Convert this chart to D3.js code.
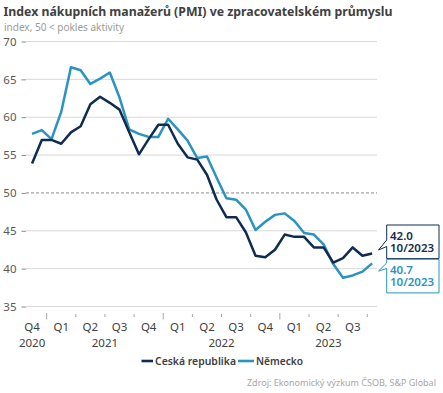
<!DOCTYPE html>
<html>
<head>
<meta charset="utf-8">
<script src="https://cdn.jsdelivr.net/npm/d3@7"></script>
<style>
  body { margin: 0; background: #fff; }
  svg { display: block; font-family: "Noto Sans", "Open Sans", sans-serif; }
</style>
</head>
<body>
<div id="chart"></div>
<script>
// monthly categories, Oct 2020 is an empty slot at the start of the axis
const months = ["2020-10","2020-11","2020-12",
  "2021-01","2021-02","2021-03","2021-04","2021-05","2021-06","2021-07","2021-08","2021-09","2021-10","2021-11","2021-12",
  "2022-01","2022-02","2022-03","2022-04","2022-05","2022-06","2022-07","2022-08","2022-09","2022-10","2022-11","2022-12",
  "2023-01","2023-02","2023-03","2023-04","2023-05","2023-06","2023-07","2023-08","2023-09","2023-10"];

const czech = [null, 53.9, 57.0,
  57.0, 56.5, 58.0, 58.8, 61.7, 62.7, 61.9, 61.0, 58.0, 55.1, 57.1, 59.0,
  59.0, 56.5, 54.7, 54.4, 52.4, 49.1, 46.8, 46.8, 44.8, 41.7, 41.5, 42.5,
  44.5, 44.2, 44.2, 42.8, 42.8, 40.8, 41.4, 42.8, 41.7, 42.0];

const germany = [null, 57.8, 58.3,
  57.1, 60.7, 66.6, 66.2, 64.4, 65.1, 65.9, 62.6, 58.4, 57.8, 57.4, 57.4,
  59.8, 58.4, 56.9, 54.6, 54.8, 52.0, 49.3, 49.1, 47.8, 45.1, 46.2, 47.1,
  47.3, 46.3, 44.7, 44.5, 43.2, 40.6, 38.8, 39.1, 39.6, 40.7];

const yTicks = [35, 40, 45, 50, 55, 60, 65, 70];
const seriesNames = ["Ceská republika", "Německo"];
const colors = ["#0f2c50", "#2b93bf"];

const W = 443, H = 393;
const svg = d3.select("#chart").append("svg").attr("width", W).attr("height", H);

// squeeze/stretch text to the width it has in the picture
function fit(sel, w) {
  sel.attr("textLength", w).attr("lengthAdjust", "spacingAndGlyphs");
  return sel;
}

fit(svg.append("text").attr("x", 3.5).attr("y", 15.5)
  .attr("font-size", 13).attr("font-weight", "bold").attr("fill", "#404040")
  .text("Index nákupních manažerů (PMI) ve zpracovatelském průmyslu"), 389);

fit(svg.append("text").attr("x", 4).attr("y", 30.5)
  .attr("font-size", 10.5).attr("fill", "#9a9a9a")
  .text("index, 50 < pokles aktivity"), 120);

const x = d3.scaleBand().domain(months).range([17.5, 377]);
const y = d3.scaleLinear().domain([35, 70]).range([306.5, 41.5]);
const cx = m => x(m) + x.bandwidth() / 2;

// gridlines
svg.append("g").selectAll("line")
  .data(yTicks)
  .enter().append("line")
    .attr("x1", 26).attr("x2", 377)
    .attr("y1", d => y(d)).attr("y2", d => y(d))
    .attr("stroke", d => d === 50 ? "#8a8a8a" : "#d9d9d9")
    .attr("stroke-width", 1)
    .attr("stroke-dasharray", d => d === 50 ? "3,2" : null);

// y axis
const yAxis = svg.append("g").attr("transform", "translate(26,0)")
  .call(d3.axisLeft(y).tickValues(yTicks).tickSize(4.5).tickPadding(5));
yAxis.select(".domain").remove();
yAxis.selectAll(".tick line").attr("stroke", "#8c8c8c");
yAxis.selectAll(".tick text").attr("font-size", 11.5).attr("fill", "#595959")
  .attr("font-family", "\"Noto Sans\", sans-serif");

// x axis: quarter groups and year groups
const quarterOf = m => +m.slice(5) <= 3 ? 1 : +m.slice(5) <= 6 ? 2 : +m.slice(5) <= 9 ? 3 : 4;
const groupBy = keyFn => {
  const g = [];
  months.forEach(m => {
    const k = keyFn(m);
    if (!g.length || g[g.length - 1].key !== k) g.push({key: k, months: [m]});
    else g[g.length - 1].months.push(m);
  });
  return g;
};
const quarters = groupBy(m => m.slice(0, 4) + "Q" + quarterOf(m));
const years = groupBy(m => m.slice(0, 4));
const gStart = g => x(g.months[0]);
const gEnd = g => x(g.months[g.months.length - 1]) + x.bandwidth();

const xg = svg.append("g");
const yearStarts = years.slice(1).map(gStart);
xg.selectAll("line.qt")
  .data(quarters.slice(1))
  .enter().append("line")
    .attr("x1", d => gStart(d)).attr("x2", d => gStart(d))
    .attr("y1", d => yearStarts.includes(gStart(d)) ? 313 : 314)
    .attr("y2", d => yearStarts.includes(gStart(d)) ? 319.5 : 317)
    .attr("stroke", "#a6a6a6").attr("stroke-width", 1);

xg.selectAll("text.q")
  .data(quarters.filter(d => d.months.length > 1))
  .enter().append("text")
    .attr("x", d => (gStart(d) + gEnd(d)) / 2)
    .attr("y", 330.5)
    .attr("text-anchor", "middle").attr("font-size", 11.5).attr("fill", "#404040")
    .text(d => "Q" + d.key.slice(-1));

xg.selectAll("text.y")
  .data(years)
  .enter().append("text")
    .attr("x", d => (gStart(d) + gEnd(d)) / 2)
    .attr("y", 346.5)
    .attr("text-anchor", "middle").attr("font-size", 11.5).attr("fill", "#404040")
    .text(d => d.key);

// lines (Germany drawn first, Czech on top)
const line = d3.line()
  .defined(d => d.v !== null)
  .x(d => cx(d.m))
  .y(d => y(d.v));

[germany, czech].forEach((vals, i) => {
  const col = i === 0 ? colors[1] : colors[0];
  svg.append("path")
    .datum(months.map((m, j) => ({m: m, v: vals[j]})))
    .attr("fill", "none")
    .attr("stroke", col)
    .attr("stroke-width", 2.5)
    .attr("stroke-linejoin", "round")
    .attr("d", line);
});

// callouts for the last value
const last = months.length - 1;
const lastLabel = months[last].slice(5) + "/" + months[last].slice(0, 4);
const callouts = [
  {v: czech[last], col: colors[0], top: y(czech[last]) - 28.5, wedge: [240, 246.5], tip: [378.5, 250]},
  {v: germany[last], col: colors[1], top: y(czech[last]) + 5.8, wedge: [263, 268.5], tip: [378.5, 271]}
];
callouts.forEach(c => {
  const l = 386.7, r = 439, t = c.top, b = c.top + 33.6;
  svg.append("path")
    .attr("d", `M${l},${t}H${r}V${b}H${l}V${c.wedge[1]}L${c.tip[0]},${c.tip[1]}L${l},${c.wedge[0]}Z`)
    .attr("fill", "#fff").attr("stroke", c.col).attr("stroke-width", 1);
  const txt = svg.append("text")
    .attr("font-size", 11.5).attr("font-weight", 600).attr("fill", c.col);
  txt.append("tspan").attr("x", 390).attr("y", t + 14.5).text(d3.format(".1f")(c.v));
  txt.append("tspan").attr("x", 390).attr("y", t + 26.5).text(lastLabel);
});

// legend
const legend = [
  {name: seriesNames[0], col: colors[0], x0: 141.5, tx: 155, tw: 81},
  {name: seriesNames[1], col: colors[1], x0: 238, tx: 256, tw: 47}
];
legend.forEach(d => {
  svg.append("line").attr("x1", d.x0).attr("x2", d.tx - 2)
    .attr("y1", 361).attr("y2", 361)
    .attr("stroke", d.col).attr("stroke-width", 2.6);
  fit(svg.append("text").attr("x", d.tx).attr("y", 365)
    .attr("font-size", 11.5).attr("font-weight", 600).attr("fill", "#404040")
    .text(d.name), d.tw);
});

// source
svg.append("text").attr("x", 436).attr("y", 385.5)
  .attr("text-anchor", "end").attr("font-size", 9)
  .attr("font-family", "\"Liberation Sans Narrow\", \"Noto Sans\", sans-serif")
  .attr("fill", "#a6a6a6")
  .text("Zdroj: Ekonomický výzkum ČSOB, S&P Global");
</script>
</body>
</html>
